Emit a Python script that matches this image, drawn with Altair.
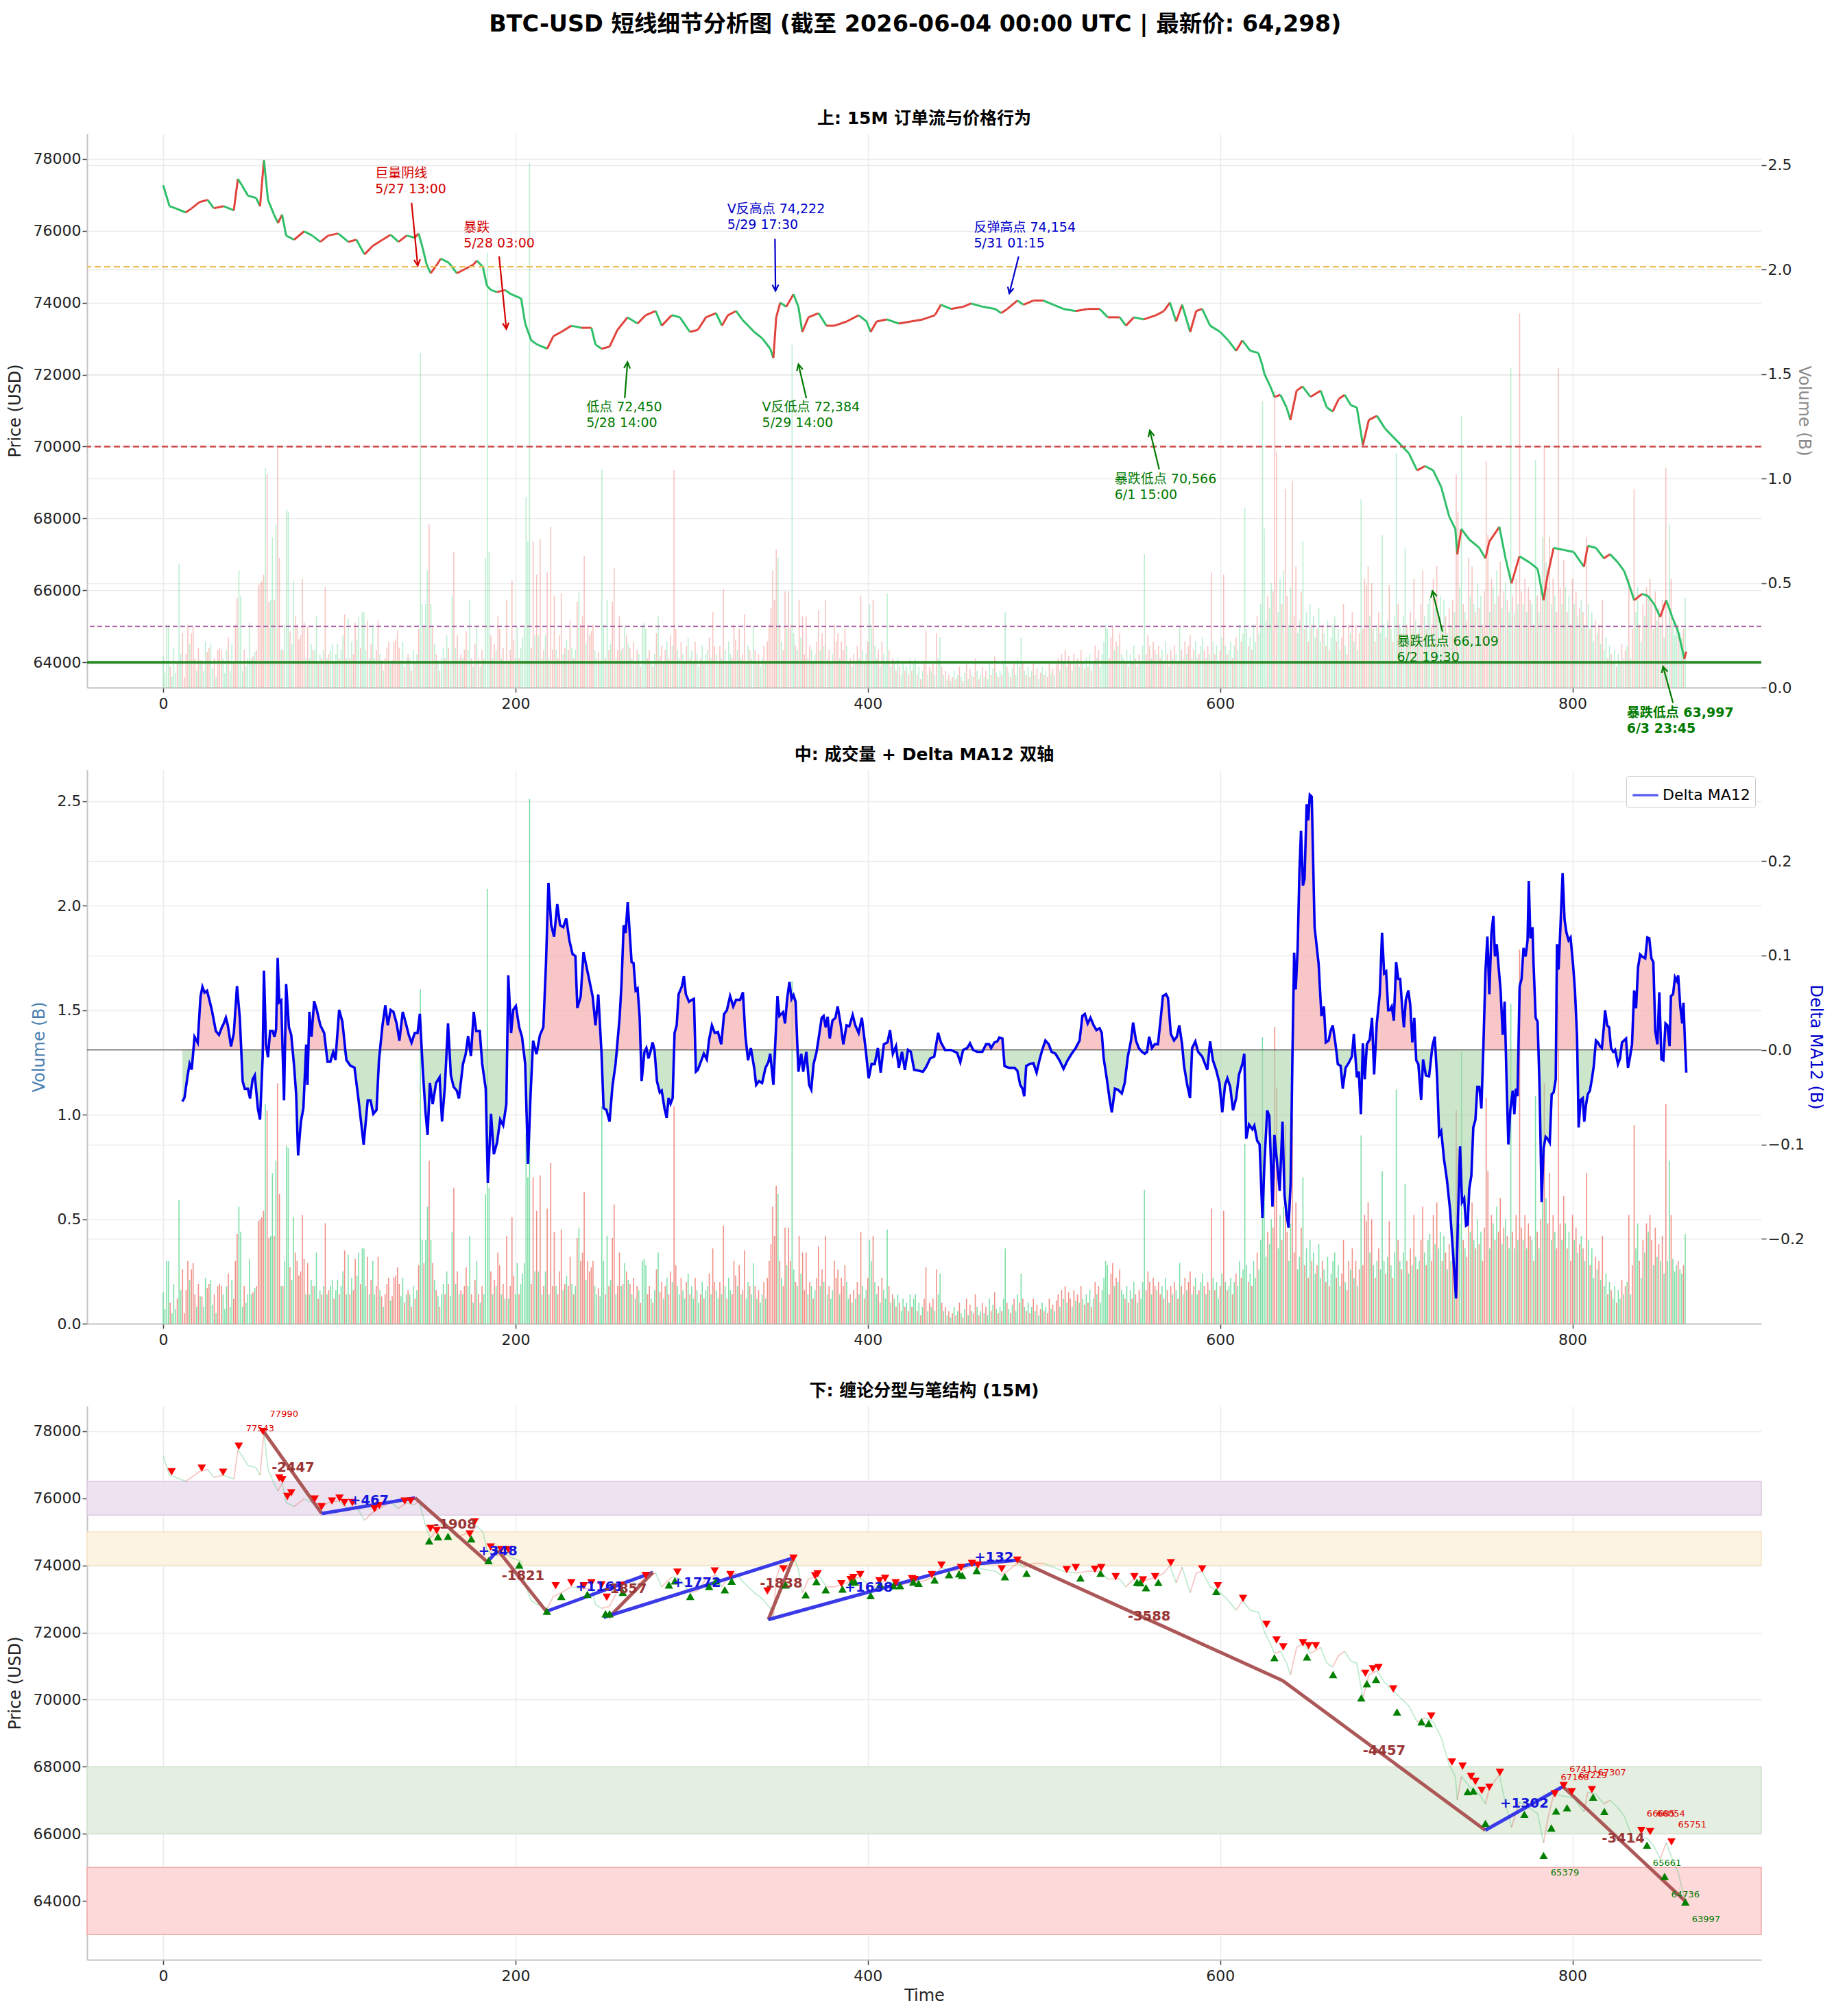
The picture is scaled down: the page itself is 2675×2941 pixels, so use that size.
import math
import pandas as pd
import altair as alt

FONT = "DejaVu Sans, Noto Sans CJK SC, sans-serif"
TITLE = "BTC-USD 短线细节分析图 (截至 2026-06-04 00:00 UTC | 最新价: 64,298)"
T1 = "上: 15M 订单流与价格行为"
T2 = "中: 成交量 + Delta MA12 双轴"
T3 = "下: 缠论分型与笔结构 (15M)"

# ---------------- data ----------------
price_i = [0,3.6,7,12.8,16.2,20.7,25.3,28.7,34.4,40.1,42.4,44.7,48.1,52.7,55,56.1,57.2,59.5,62.9,65.2,67.5,69.8,74.3,80,84.6,89.2,93.7,99.4,105.1,109.7,114.3,118.8,124.5,129.1,133.6,138.2,142.8,145,147.3,149.6,151.9,155.3,157.6,162.2,166.7,171.3,175.9,178.1,181.5,183.8,186.1,189.5,194.1,197.5,203.2,205.5,208.9,212.3,218,221.5,226,231.7,237.4,243.1,245.4,248.8,253.4,257.9,263.6,269.3,273.9,279.6,283,288.7,293.3,299,303.5,308.1,313.8,317.2,320.6,325.2,328.6,335.5,340,344.6,346.4,348,350.3,353.7,357.8,360.6,362.8,366.3,372,376.5,381.1,388,394.8,399.3,401.6,405,410.7,417.6,424.4,431.3,438.1,441.5,447.2,454.1,458.6,465.5,472.3,475.7,479.2,484.9,488.3,494,499.7,505.4,511.1,518,524.8,531.6,536.2,543,546.5,551,556.7,563.6,568.1,571.5,575,578.4,583,586.4,589.8,594.3,600,604.6,609.1,612.6,617.1,621.7,624,625.1,628.5,630.8,634.2,637.7,639.9,643.4,646.8,651.3,657.1,660.5,663.9,667.3,670.7,674.2,677.6,679.9,681,684.4,689,693.5,698.1,702.7,707.2,711.8,716.3,720.9,725.5,730,733.5,734.6,736.9,741.4,747.1,750.6,752.8,758.5,762,765.4,769.9,775.7,780.2,783.6,785.9,789.3,795,800.7,806.5,808.7,813.3,817.8,821.3,825.8,829.3,832.7,835,839.5,842.9,846.4,849.8,853.2,856.6,860,863.5,864.6]
price_p = [77266,76683,76625,76508,76625,76800,76858,76625,76683,76566,77441,77266,76974,76916,76683,77324,77965,76858,76450,76217,76450,75867,75751,75984,75867,75692,75867,75925,75692,75751,75343,75576,75751,75890,75692,75867,75809,75925,75518,75051,74818,75051,75226,75110,74818,74935,75051,75168,74993,74469,74352,74294,74352,74236,74119,73420,72953,72837,72720,73070,73187,73361,73303,73303,72837,72720,72778,73245,73594,73420,73653,73769,73361,73653,73594,73187,73245,73594,73711,73361,73653,73769,73536,73187,73012,72720,72464,73594,74002,73886,74235,73886,73187,73594,73711,73361,73361,73478,73653,73478,73187,73478,73536,73420,73478,73536,73653,73944,73827,73886,73979,73886,73827,73711,73827,74061,73944,74061,74061,73944,73827,73769,73827,73827,73594,73594,73361,73594,73536,73653,73769,74002,73478,73944,73187,73769,73827,73361,73187,72953,72662,72953,72662,72604,72254,72021,71671,71380,71438,71089,70739,71555,71671,71380,71555,71089,70972,71322,71438,71147,71089,70389,70040,70739,70855,70506,70273,70040,69807,69340,69457,69340,68874,68058,67709,67009,67709,67417,67184,66893,67359,67767,66893,66194,66951,66776,66601,65728,66427,67184,67126,67068,66660,67242,67184,66893,67009,66776,66543,66077,65728,65903,65845,65612,65262,65728,65262,64853,64100,64298]

# volume per 15M bar (B), bars 0..864
vol_v = [
    .15,.07,.30,.30,.10,.05,.19,.07,.12,.59, .16,.26,.05,.16,.30,.21,.26,.29,.14,.08,
    .19,.13,.13,.08,.22,.17,.19,.21,.09,.14, .05,.18,.19,.18,.14,.07,.18,.24,.08,.21,
    .12,.30,.43,.56,.44,.08,.18,.10,.14,.31, .14,.15,.17,.18,.49,.50,.51,.54,1.05,1.02,
    .41,.42,.72,.42,.78,1.15,.62,.18,.18,.30, .85,.84,.27,.21,.51,.34,.30,.23,.25,.52,
    .31,.14,.29,.14,.21,.18,.18,.34,.12,.16, .14,.18,.48,.14,.16,.18,.21,.12,.16,.21,
    .14,.18,.25,.35,.14,.33,.14,.22,.16,.31, .23,.34,.19,.36,.36,.18,.32,.14,.21,.30,
    .14,.18,.32,.16,.13,.08,.14,.19,.22,.11, .13,.22,.23,.27,.19,.13,.22,.10,.14,.16,
    .14,.08,.18,.12,.16,.28,1.60,.40,.29,.40, .56,.78,.40,.29,.21,.16,.13,.08,.14,.19,
    .14,.25,.19,.13,.44,.65,.19,.25,.14,.16, .14,.18,.27,.18,.42,.14,.10,.21,.30,.14,
    .10,.18,.14,.62,2.08,.65,.25,.14,.21,.18, .34,.28,.14,.19,.12,.42,.12,.18,.51,.23,
    .14,.29,.14,.19,.24,.29,.91,.70,2.51,.19, .70,.25,.54,.25,.71,.14,.18,.25,.55,.14,
    .77,.18,.44,.18,.14,.25,.45,.16,.19,.23, .18,.32,.19,.14,.18,.41,.46,.30,.34,.63,
    .21,.30,.25,.27,.30,.18,.14,.17,.13,1.04, .30,.14,.42,.18,.21,.41,.57,.14,.18,.34,
    .18,.19,.29,.25,.21,
    .19,.14,.22,.12,.18,.16,.10,.30,.31,.28, .14,.18,.12,.10,.16,.26,.34,.15,.20,.12,
    .18,.22,.14,.25,.20,1.04,.28,.18,.14,.22, .16,.12,.20,.24,.14,.18,.12,.22,.16,.10,
    .14,.20,.12,.16,.18,.24,.14,.36,.20,.16, .12,.20,.14,.47,.18,.12,.22,.16,.14,.30,
    .23,.18,.28,.14,.16,.35,.12,.20,.18,.14, .29,.18,.12,.16,.10,.14,.20,.12,.22,.30,
    .38,.56,.42,.66,.62,.30,.22,.18,.46,.28, .46,.30,1.64,.26,.20,.18,.42,.24,.34,.16,
    .34,.14,.20,.18,.12,.16,.22,.37,.18,.26, .20,.42,.14,.18,.12,.16,.30,.22,.26,.14,
    .22,.18,.28,.20,.12,.14,.10,.16,.12,.20, .14,.44,.18,.12,.16,.22,.40,.30,.42,.20,
    .14,.18,.10,.22,.16,.12,.45,.18,.10,.14, .12,.08,.14,.10,.06,.12,.08,.10,.06,.14,
    .08,.12,.14,.06,.10,.04,.08,.12,.27,.06, .10,.08,.12,.06,.26,.14,.24,.10,.06,.08,
    .04,.06,.03,.05,.08,.04,.06,.10,.05,.03, .07,.12,.04,.09,.06,.05,.14,.08,.04,.06,
    .10,.05,.08,.04,.12,.06,.09,.15,.07,.05, .08,.06,.12,.36,.10,.07,.05,.09,.12,.06,
    .14,.10,.24,.12,.08,.06,.10,.05,.08,.12, .06,.09,.04,.07,.10,.06,.08,.05,.12,.07,
    .09,.06,.11,.14,.08,.16,.12,.18,.10,.15, .12,.08,.16,.11,.14,.10,.18,.12,.09,.14,
    .10,.16,.08,.12,.20,.14,.18,.10,.16,.22, .30,.28,.14,.24,.29,.18,.22,.20,.26,.16,
    .14,.12,.18,.10,.16,.12,.20,.14,.10,.16, .12,.20,.64,.16,.25,.20,.14,.22,.18,.16,
    .20,.14,.18,.12,.22,.16,.10,.18,.14,.20, .16,.12,.29,.18,.14,.22,.16,.20,.25,.14,
    .18,.22,.14,.16,.20,.24,.18,.14,.20,.16, .55,.22,.16,.20,.12,.18,.24,.54,.20,.16,
    .18,.22,.14,.20,.24,.18,.30,.22,.26,.86, .28,.20,.24,.18,.30,.22,.34,.26,.40,1.37,
    .76,.32,.44,.38,.50,.46,1.42,1.13,.36,.52, .40,.56,.95,.44,.30,.48,.99,.34,.58,.26,
    .32,.46,.70,.28,.36,.22,.40,.30,.34,.24, .28,.38,.22,.30,.26,.20,.32,.18,.24,.30,
    .34,.22,.28,.18,.24,.40,.20,.16,.30,.26, .36,.22,.30,.18,.26,.90,.28,.52,.49,.58,
    .34,.50,.28,.22,.30,.36,.26,.73,.30,.24, .32,.49,.28,.22,.34,1.12,.40,.30,.26,.34,
    .67,.30,.24,.36,.28,.52,.32,.26,.30,.40, .56,.34,.28,.40,.43,.30,.52,.38,.58,.36,
    .44,.30,.42,.34,.26,.38,.30,.42,.36,1.02, .84,.48,1.30,.40,.36,.32,.62,.44,.58,.40,
    .36,.50,.38,.44,.30,.46,1.08,.73,.36,.52, .48,.40,.56,.44,.60,.38,.46,.50,.42,.36,
    1.53,.44,.36,.52,.40,1.79,.46,.40,.52,.36, .48,.42,.40,.30,1.09,.44,.36,.50,.72,1.15,
    .60,.48,.72,.40,.52,.44,.36,1.53,.48,.40, .61,.48,.36,.44,.30,.52,.40,.46,.34,.38,
    .42,.36,.30,.72,.40,.28,.36,.22,.32,.26, .30,.21,.42,.18,.24,.14,.20,.16,.12,.18,
    .10,.16,.12,.21,.14,.18,.20,.52,.14,.28, .95,.36,.48,.30,.22,.40,.34,.48,.44,.52,
    .40,.28,.46,.32,.38,.30,.42,.24,1.05,.30, .78,.52,.31,.25,.28,.30,.26,.24,.28,.43,
]
# bar direction per bar: u = close up (red), d = close down (green)
vol_dir = (
    "ddddudddud" "duuuuduuud" "ududduuddu" "duuudddudd" "uuuddduddd"
    "duduuuuudu" "udduduudud" "ddudduuuuu" "ududduddud" "udududdudd"
    "uddudduduu" "ddudddudud" "duududuuud" "uuuuuddudu" "dudududdud"
    "dududududd" "ududdududu" "duuddududu" "duddddudud" "uudududuuu"
    "dduddddddu" "ududududud" "uuuduuudud" "uudududuuu" "duuuuddudd"
    "dududuuduu" "dudud"
    "ududududdd" "uudududuud" "uduuduuddu" "ddududdudd" "ududduduud"
    "dudududduu" "ududuuddud" "dududduduu" "uuuududuud" "uuddududuu"
    "udududuudu" "dududduuud" "uuuddududu" "dudududdud" "dududddudu"
    "dududdudud" "uddududuud" "udududdudu" "dududududu" "dududuudud"
    "ududdududu" "duddududud" "dududududu" "dudududuud" "uduudududu"
    "ududududud" "ududududdd" "dduuududud" "dududududu" "ddduuuduud"
    "uududududu" "dudududuud" "udduddudud" "ududdududu" "ddududdudd"
    "dududduddd" "ddudduuudd" "uduudduuud" "dududududd" "uddudududd"
    "dudduuduud" "udududuuuu" "dudududddu" "dududdudud" "dududududu"
    "ududduudud" "dududududu" "udduduudud" "ududuuuudu" "duduududud"
    "dududuudud" "uududududu" "duududuuud" "ududuududu" "dudududdud"
    "ududdududd" "uddudududu" "uddudududu" "ududududud" "duddduddud"
)

delta_i = [10.9,12.1,13.9,15.0,16.2,17.8,19.6,21.2,22.3,23.5,24.9,26.0,27.6,29.9,31.7,33.3,34.4,35.6,36.7,38.5,40.1,41.9,43.5,45.1,46.3,48.1,49.3,50.8,52.0,53.8,55.0,56.5,57.2,58.4,59.5,60.7,62.2,63.2,64.1,65.0,65.9,67.0,68.6,69.8,71.4,72.7,74.3,75.5,76.6,78.2,79.6,81.2,81.9,83.0,84.2,85.7,87.3,89.2,91.4,93.3,94.9,96.5,97.8,99.9,101.7,104.0,106.3,108.6,110.8,113.8,116.1,117.7,119.3,121.1,122.5,124.5,126.1,127.5,129.1,130.7,132.5,134.1,136.0,137.5,139.4,141.0,142.8,144.4,145.7,147.3,148.9,150.1,151.4,153.0,154.9,156.9,158.3,159.9,161.7,163.3,164.9,166.7,167.9,170.2,171.7,173.1,174.7,176.3,177.7,179.7,181.1,183.1,184.3,186.1,187.7,189.5,191.3,193.0,194.8,195.9,197.5,198.7,200.2,202.1,203.7,205.5,207.1,208.5,210.0,211.9,213.9,215.8,217.3,218.7,220.3,221.9,223.7,225.3,227.1,228.8,230.6,232.4,234.0,235.1,237.0,238.6,240.4,242.0,243.8,245.4,247.0,248.8,250.0,251.6,253.4,255.0,256.8,259.1,260.2,261.4,262.5,263.7,265.9,267.0,268.2,269.3,270.5,271.6,273.2,274.3,275.5,276.6,277.8,278.9,280.3,281.9,283.0,284.6,285.8,286.9,288.0,289.2,290.3,291.5,292.6,294.4,295.6,296.7,298.5,300.1,301.3,302.4,303.5,305.1,306.9,308.6,309.9,311.5,313.1,314.9,316.8,318.4,320.0,321.8,323.6,325.2,327.5,329.1,330.5,332.0,333.6,335.5,336.6,338.2,340.0,341.9,343.5,344.6,346.4,348.7,349.8,351.9,353.0,354.2,355.5,356.7,357.8,359.0,360.6,362.2,363.3,365.1,366.7,367.9,369.2,370.8,371.9,373.8,374.9,376.1,377.2,378.4,379.9,381.6,382.9,384.5,386.1,387.9,389.5,391.4,392.9,394.8,396.6,398.7,400.5,402.1,403.9,405.7,407.3,409.1,411.2,412.6,414.2,416.0,417.6,419.4,421.0,422.8,424.4,426.3,429.0,431.3,433.1,435.4,437.7,439.9,441.5,443.8,447.2,450.7,452.5,454.1,456.4,458.0,459.8,462.1,465.0,467.1,468.9,470.0,471.9,473.5,474.6,476.4,477.6,480.3,483.3,484.9,486.5,487.8,488.8,489.9,491.7,494.0,495.8,497.4,499.0,500.8,502.7,504.3,506.5,508.8,511.1,513.4,515.7,518.0,520.2,521.8,523.2,524.8,526.4,528.2,529.8,531.6,532.8,533.9,535.7,537.3,538.5,540.3,541.9,544.2,545.8,547.6,549.4,550.6,552.2,553.8,555.6,557.2,558.5,559.7,561.3,562.9,564.7,566.3,567.5,569.3,570.4,572.0,573.8,575.4,576.8,578.4,579.5,581.3,582.9,584.1,585.9,587.5,589.8,592.7,594.3,595.9,597.7,599.6,601.2,602.8,604.1,605.7,607.3,609.1,610.7,612.6,613.7,614.8,616.4,618.3,619.4,621.0,622.4,624.0,625.1,626.7,627.9,629.7,630.8,632.4,633.8,635.4,636.5,637.7,638.8,640.0,641.1,642.0,642.9,644.0,645.0,645.9,647.0,647.9,649.1,650.0,650.9,652.0,653.6,655.9,657.5,658.9,660.0,661.6,662.7,663.9,665.5,666.8,668.4,669.6,671.2,672.9,674.8,675.9,677.6,678.7,679.9,681.0,682.1,683.3,684.9,686.2,687.4,688.9,690.6,691.9,693.1,694.2,695.4,696.3,697.4,698.6,699.9,701.1,702.2,703.3,704.3,705.4,706.8,707.9,709.1,710.2,711.3,712.5,714.1,715.2,716.8,718.6,720.5,721.8,723.2,724.3,725.5,727.1,728.7,730.5,732.3,733.9,735.0,736.2,737.3,738.5,739.6,740.5,741.4,742.6,743.7,744.9,746.0,747.1,748.3,749.4,750.6,751.7,752.8,754.0,755.1,756.0,757.0,758.1,759.2,760.4,761.5,762.4,763.6,764.7,766.1,767.0,767.9,768.8,770.0,771.1,772.2,773.4,774.5,775.2,776.1,777.3,777.9,779.1,780.2,781.3,782.5,783.6,784.8,785.9,787.1,788.2,789.3,790.5,791.2,792.1,793.2,794.4,795.5,796.6,797.8,798.9,800.3,801.4,802.6,803.5,804.6,805.8,806.7,807.6,808.7,809.9,811.0,812.1,813.3,814.4,815.6,816.7,817.8,818.5,819.7,820.8,821.9,823.1,824.2,825.8,827.0,828.1,829.3,830.4,831.5,832.7,833.8,835.0,836.1,837.2,838.4,839.5,841.3,842.5,843.6,844.8,845.9,847.0,848.2,849.3,850.5,851.6,852.8,853.9,855.1,855.9,857.1,858.2,859.3,860.0,861.2,862.3,863.0,863.9,864.6]
delta_v = [-0.0546,-0.0505,-0.0269,-0.0147,-0.0208,0.0138,0.0077,0.0566,0.0668,0.0607,0.0627,0.0546,0.0424,0.0200,0.0159,0.0240,0.0281,0.0342,0.0261,0.0037,0.0179,0.0676,0.0342,-0.0330,-0.0411,-0.0411,-0.0513,-0.0310,-0.0269,-0.0627,-0.0737,-0.0065,0.0839,0.0057,-0.0077,0.0200,0.0200,0.0138,0.0220,0.0974,0.0505,0.0525,-0.0534,0.0697,0.0240,0.0159,-0.0167,-0.0473,-0.1116,-0.0758,-0.0615,0.0057,-0.0371,0.0403,0.0138,0.0517,0.0415,0.0261,0.0179,-0.0126,-0.0126,-0.0024,-0.0106,0.0424,0.0301,-0.0106,-0.0167,-0.0187,-0.0513,-0.1002,-0.0534,-0.0534,-0.0676,-0.0635,-0.0106,0.0261,0.0473,0.0261,0.0424,0.0403,0.0281,0.0098,0.0403,0.0301,0.0159,0.0077,0.0179,0.0179,0.0383,-0.0187,-0.0656,-0.0900,-0.0350,-0.0574,-0.0350,-0.0289,-0.0758,-0.0391,0.0281,-0.0269,-0.0391,-0.0432,-0.0513,-0.0147,-0.0045,0.0147,-0.0065,0.0403,0.0200,0.0200,-0.0147,-0.0411,-0.1409,-0.0676,-0.1104,-0.0982,-0.0737,-0.0798,-0.0574,0.0790,0.0179,0.0424,0.0464,0.0240,0.0138,-0.0147,-0.1206,-0.0493,0.0098,-0.0045,0.0159,0.0240,0.0912,0.1768,0.1320,0.1198,0.1544,0.1320,0.1299,0.1393,0.1157,0.1014,0.0994,0.0444,0.0566,0.1035,0.0872,0.0729,0.0566,0.0261,0.0587,-0.0024,-0.0615,-0.0635,-0.0758,-0.0391,-0.0147,0.0342,0.0709,0.1320,0.1238,0.1564,0.093,0.092,0.063,0.065,0.034,-0.033,-0.002,0.002,-0.009,-0.002,0.008,0.0,-0.033,-0.045,-0.043,-0.062,-0.072,-0.051,-0.057,-0.051,0.018,0.026,0.059,0.067,0.078,0.059,0.051,0.053,0.054,-0.023,-0.021,-0.013,-0.004,-0.010,0.011,0.026,0.018,0.019,0.006,0.038,0.042,0.057,0.046,0.053,0.053,0.061,0.015,-0.011,0.002,-0.019,-0.037,-0.033,-0.035,-0.019,-0.013,-0.004,-0.037,0.057,0.036,0.040,0.028,0.054,0.072,0.054,0.058,0.051,-0.023,-0.004,-0.023,-0.002,-0.037,-0.042,-0.015,-0.003,0.010,0.034,0.036,0.024,0.035,0.012,0.031,0.034,0.046,0.028,0.006,0.026,0.025,0.037,0.026,0.018,0.034,0.002,-0.030,-0.015,-0.015,0.002,-0.024,0.006,0.008,0.021,-0.004,0.004,-0.019,-0.002,-0.021,0.0,-0.002,-0.021,-0.022,-0.023,-0.018,-0.009,-0.007,0.018,0.008,0.0,0.0,-0.003,-0.013,0.0,0.002,0.007,0.0,-0.002,-0.002,0.006,0.006,0.002,0.008,0.009,0.013,0.012,-0.017,-0.019,-0.019,-0.022,-0.037,-0.041,-0.049,-0.017,-0.015,-0.014,-0.024,-0.011,0.0,0.010,0.006,-0.002,-0.004,-0.011,-0.020,-0.011,-0.004,0.002,0.010,0.036,0.038,0.028,0.034,0.026,0.021,0.023,0.018,-0.009,-0.031,-0.053,-0.066,-0.041,-0.042,-0.046,-0.035,-0.007,0.010,0.029,0.010,0.002,-0.002,-0.004,-0.002,0.014,0.002,0.006,0.006,0.034,0.057,0.059,0.055,0.017,0.010,0.014,0.026,0.006,-0.017,-0.037,-0.051,0.002,0.009,-0.002,-0.007,-0.021,0.009,-0.011,-0.021,-0.035,-0.066,-0.037,-0.030,-0.039,-0.064,-0.051,-0.026,-0.015,-0.004,-0.094,-0.079,-0.084,-0.080,-0.096,-0.100,-0.178,-0.121,-0.064,-0.070,-0.166,-0.090,-0.121,-0.149,-0.076,-0.153,-0.174,-0.188,-0.141,0.002,0.103,0.064,0.108,0.189,0.232,0.174,0.181,0.260,0.243,0.270,0.268,0.130,0.091,0.036,0.046,0.008,0.010,0.020,0.026,0.006,-0.015,-0.017,-0.041,-0.019,-0.014,-0.007,0.017,-0.029,-0.023,-0.068,0.007,-0.031,0.006,0.011,0.034,-0.026,0.028,0.059,0.124,0.081,0.083,0.042,0.042,0.046,0.031,0.093,0.075,0.075,0.046,0.024,0.053,0.063,0.048,0.008,0.034,-0.011,-0.015,-0.053,-0.010,-0.027,-0.028,0.004,0.014,-0.031,-0.090,-0.086,-0.116,-0.137,-0.169,-0.218,-0.263,-0.178,-0.102,-0.161,-0.157,-0.186,-0.185,-0.147,-0.133,-0.082,-0.074,-0.039,-0.039,-0.062,0.002,0.083,0.120,0.059,0.124,0.142,0.099,0.112,0.087,0.063,0.016,0.051,-0.019,-0.100,-0.064,-0.043,-0.068,-0.041,-0.049,0.067,0.075,0.108,0.099,0.116,0.179,0.118,0.130,0.091,0.034,0.030,-0.039,-0.161,-0.104,-0.092,-0.094,-0.098,-0.047,-0.045,-0.031,0.112,0.085,0.132,0.187,0.138,0.124,0.116,0.119,0.091,0.063,0.014,-0.082,-0.053,-0.051,-0.076,-0.059,-0.047,-0.043,-0.031,-0.017,0.010,0.008,0.004,0.002,0.024,0.042,0.026,0.024,0.002,-0.002,0.0,-0.015,-0.009,0.008,0.010,0.012,-0.019,-0.007,0.006,0.063,0.044,0.087,0.101,0.099,0.097,0.119,0.118,0.097,0.093,0.020,0.006,0.061,-0.010,-0.011,0.028,0.026,0.004,0.057,0.059,0.077,0.073,0.079,0.046,0.028,0.050,0.006,-0.024]

lvl_vals = [75000, 70000, 65000, 64000]

ann_text = ["巨量阴线\n5/27 13:00", "暴跌\n5/28 03:00", "V反高点 74,222\n5/29 17:30", "反弹高点 74,154\n5/31 01:15",
            "低点 72,450\n5/28 14:00", "V反低点 72,384\n5/29 14:00", "暴跌低点 70,566\n6/1 15:00", "暴跌低点 66,109\n6/2 19:30"]
ann_x = [120.4, 170.6, 320.2, 460.2, 240.2, 340.0, 540.1, 700.3]
ann_y = [77764, 76261, 76774, 76261, 71273, 71273, 69268, 64757]
ann_col = ["#d40000", "#d40000", "#0000c8", "#0000c8", "#007a00", "#007a00", "#007a00", "#007a00"]
annb_text = ["暴跌低点 63,997\n6/3 23:45"]
annb_x = [830.8]
annb_y = [62764]
arr_x1 = [141.0, 190.7, 347.3, 485.6, 262.0, 365.1, 565.4, 726.2, 857.1]
arr_y1 = [76780, 75284, 75774, 75284, 71345, 71345, 69364, 64853, 62872]
arr_x2 = [144.5, 194.8, 347.6, 480.3, 263.6, 360.6, 560.1, 720.5, 851.4]
arr_y2 = [75030, 73268, 74329, 74259, 72347, 72289, 70447, 65984, 63886]
arr_col = ["#d40000", "#d40000", "#0000c8", "#0000c8", "#007a00", "#007a00", "#007a00", "#007a00", "#007a00"]

bi_x1 = [57, 90, 143, 184, 190, 217.5, 253, 250, 343.5, 343.5, 457, 485, 635.5, 750.5, 794.6]
bi_y1 = [77990, 75543, 76010, 74102, 74450, 72629, 72450, 72450, 72384, 72384, 74022, 74154, 70566, 66109, 67411]
bi_x2 = [90, 143, 184, 190, 217.5, 278, 278, 357.8, 357.8, 457, 485, 635.5, 750.5, 794.6, 864]
bi_y2 = [75543, 76010, 74102, 74450, 72629, 73790, 73790, 74222, 74222, 74022, 74154, 70566, 66109, 67411, 63997]
bi_up = [0, 1, 0, 1, 0, 1, 0, 1, 0, 1, 1, 0, 0, 1, 0]
bi_lab = ["-2447", "+467", "-1908", "+348", "-1821", "+1161", "-1857", "+1772", "-1838", "+1638", "+132", "-3588", "-4457", "+1302", "-3414"]
bi_lx = [73.7, 117, 165.6, 190, 204.3, 247.7, 262.5, 302.9, 350.8, 400.5, 471.6, 559.7, 693.1, 772.7, 828.8]
bi_ly = [76910, 75930, 75219, 74423, 73688, 73357, 73296, 73480, 73455, 73333, 74239, 72487, 68482, 66901, 65860]

top_i = [4.8,21.9,34.0,42.9,56.6,65.9,67.7,70.5,72.7,86.0,89.9,95.8,100.1,102.9,107.4,120.0,122.7,137.1,140.5,151.7,155.3,174.0,176.8,185.9,191.8,195.9,222.8,231.7,238.8,243.1,248.8,251.8,259.8,273.9,291.9,313.1,322.0,343.0,352.1,357.8,370.1,371.5,385.0,390.2,391.8,395.7,406.6,409.8,415.8,425.1,426.5,436.3,441.8,452.9,459.1,462.5,476.0,484.9,512.9,518.0,528.9,532.5,540.7,551.3,556.2,563.1,572.0,589.8,598.7,613.0,626.3,632.0,635.8,647.0,650.2,654.3,682.4,686.7,689.9,698.3,719.8,731.6,737.6,742.4,744.9,748.5,752.8,758.8,790.0,795.0,799.6,811.0,839.1,844.1,856.2]
top_p = [76787,76897,76775,77547,77990,76604,76555,76052,76162,75979,75746,75917,76003,75868,75868,75685,75783,75917,75917,75097,75035,74937,75293,74545,74472,74472,73394,73480,73394,73480,73418,73051,73406,73700,73798,73835,73725,73235,73896,74215,73688,73749,73455,73578,73639,73725,73541,73615,73480,73602,73578,73725,74006,73933,74055,74006,73896,74154,73872,73933,73884,73933,73663,73663,73565,73663,74080,73896,73394,73014,72242,71777,71569,71691,71605,71605,70785,70920,70956,70319,69511,68139,68016,67710,67563,67294,67392,67832,67195,67440,67257,67318,66105,66068,65762]
bot_i = [151.0,156.0,161.7,174.9,184.7,202.1,217.8,226.0,240.8,251.1,253.4,260.9,287.1,290.5,299.2,309.9,313.8,318.8,322.7,353.3,364.7,370.8,376.1,385.6,390.9,392.7,401.6,406.9,414.6,418.3,425.8,428.8,437.9,446.1,451.8,453.6,461.8,477.8,490.1,520.7,532.1,552.8,554.7,557.9,564.9,597.8,630.8,649.3,664.1,680.1,683.3,688.5,700.4,714.3,718.4,740.5,743.7,750.6,772.7,783.6,788.0,790.7,796.9,811.7,818.1,842.3,852.3,864.1]
bot_p = [74729,74852,74864,74790,74141,74006,72635,73075,73137,72561,72561,73198,73418,73541,73075,73369,73541,73271,73529,73418,73124,73516,73271,73296,73504,73504,73100,73431,73394,73394,73504,73467,73565,73725,73749,73700,73847,73663,73761,73627,73761,73492,73480,73333,73492,73222,71250,71274,70748,70050,70478,70601,69633,69339,69290,67257,67282,66313,66583,65358,66179,66681,66779,67097,66669,65664,64733,63974]

small_red_t = ["77990", "77543", "67411", "67168", "67229", "67307", "66685", "66054", "65751"]
small_red_x = [68.6, 55.0, 806.4, 801.4, 811.7, 822.4, 850.2, 855.9, 868.0]
small_red_y = [78514, 78073, 67931, 67686, 67747, 67820, 66595, 66595, 66277]
small_grn_t = ["65379", "65661", "64736", "63997"]
small_grn_x = [795.7, 853.7, 864.1, 875.8]
small_grn_y = [64844, 65138, 64194, 63459]

zone_lo = [75500, 74000, 66000, 63000]
zone_hi = [76500, 75000, 68000, 65000]
zone_fill = ["#ede3f0", "#fdf3e2", "#e4efe1", "#fdd9da"]
zone_line = ["#dcc8de", "#f6e4c6", "#cfe2cc", "#f1a9ab"]

# ---------------- layout / scales ----------------
W, H = 2442, 808
X_DOM = [-43.2, 907.2]
P1_DOM = [63300, 78700]
V_DOM = [0, 2.65]
D_DOM = [-0.2897, 0.2965]
P3_DOM = [62250, 78750]
UP_C, DN_C = "#e0443c", "#2fbf68"
VUP_C, VDN_C = "#e74c3c", "#2ecc71"

xs = alt.Scale(domain=X_DOM, nice=False, zero=False)
XV = [0, 200, 400, 600, 800]
xaxis = alt.Axis(values=XV, title=None, grid=True, tickSize=7, labelPadding=6)
xaxis_t = alt.Axis(values=XV, title="Time", grid=True, tickSize=7, labelPadding=6, titlePadding=6)

def xenc(f, ax=xaxis):
    return alt.X(f, type="quantitative", scale=xs, axis=ax)

p1s = alt.Scale(domain=P1_DOM, nice=False, zero=False)
p1ax = alt.Axis(values=list(range(64000, 78001, 2000)), format="d", title="Price (USD)", grid=True, tickSize=7, orient="left", titlePadding=14)
p3s = alt.Scale(domain=P3_DOM, nice=False, zero=False)
p3ax = alt.Axis(values=list(range(64000, 78001, 2000)), format="d", title="Price (USD)", grid=True, tickSize=7, orient="left", titlePadding=14)
vs = alt.Scale(domain=V_DOM, nice=False, zero=True)
VV = [0, 0.5, 1.0, 1.5, 2.0, 2.5]
v1ax = alt.Axis(values=VV, format=".1f", title="Volume (B)", titleColor="#8a8a8a", orient="right", domain=False, grid=True, tickSize=7, titlePadding=6)
v2ax = alt.Axis(values=VV, format=".1f", title="Volume (B)", titleColor="#4a7fb0", orient="left", grid=True, tickSize=7, titlePadding=14)
ds = alt.Scale(domain=D_DOM, nice=False, zero=False)
dax = alt.Axis(values=[-0.2, -0.1, 0.0, 0.1, 0.2], format=".1f", title="Delta MA12 (B)", titleColor="#0000cc", orient="right", domain=False, grid=True, tickSize=7, titlePadding=4)

# derived tables
seg = pd.DataFrame({"x": price_i[:-1], "x2": price_i[1:], "y": price_p[:-1], "y2": price_p[1:]})
seg["c"] = [UP_C if b >= a else DN_C for a, b in zip(seg["y"], seg["y2"])]
vol = pd.DataFrame({"i": list(range(len(vol_v))), "v": vol_v,
                    "c": [VUP_C if ch == "u" else VDN_C for ch in vol_dir[:len(vol_v)]]})
dd = pd.DataFrame({"i": delta_i, "d": delta_v})
dd["pos"] = dd["d"].clip(lower=0)
dd["neg"] = dd["d"].clip(upper=0)
dd["name"] = "Delta MA12"

sx = W / (X_DOM[1] - X_DOM[0])
sy = H / (P1_DOM[1] - P1_DOM[0])
angs = []
for a, b, c, d in zip(arr_x1, arr_y1, arr_x2, arr_y2):
    dx = (c - a) * sx
    dys = -(d - b) * sy
    angs.append((math.degrees(math.atan2(dx, -dys)) + 360) % 360)
arr = pd.DataFrame({"x": arr_x1, "y": arr_y1, "x2": arr_x2, "y2": arr_y2, "c": arr_col, "a": angs})
ann = pd.DataFrame({"x": ann_x, "y": ann_y, "t": ann_text, "c": ann_col})
annb = pd.DataFrame({"x": annb_x, "y": annb_y, "t": annb_text})

# ---------------- panel 1 ----------------
vol1 = alt.Chart(vol).mark_rule(strokeWidth=1.6, opacity=0.32).encode(
    x=xenc("i"), y=alt.Y("v:Q", scale=vs, axis=v1ax), y2=alt.datum(0), color=alt.Color("c:N", scale=None))
cand1 = alt.Chart(seg).mark_rule(strokeWidth=3.0).encode(
    x=xenc("x"), x2="x2", y=alt.Y("y:Q", scale=p1s, axis=p1ax), y2="y2", color=alt.Color("c:N", scale=None))

def hline(v, color, w, dash=None):
    kw = dict(color=color, strokeWidth=w)
    if dash:
        kw["strokeDash"] = dash
    return alt.Chart(pd.DataFrame({"y": [v]})).mark_rule(**kw).encode(y=alt.Y("y:Q", scale=p1s, axis=p1ax))

h1 = hline(lvl_vals[0], "#efbb55", 2.4, [9, 5])
h2 = hline(lvl_vals[1], "#cf4a4a", 2.4, [9, 5])
h3 = hline(lvl_vals[2], "#a0559a", 2.0, [7, 4])
h4 = hline(lvl_vals[3], "#2a8a2a", 4.0)
anntxt = alt.Chart(ann).mark_text(align="left", baseline="top", fontSize=19, lineBreak="\n", lineHeight=23, font=FONT).encode(
    x=xenc("x"), y=alt.Y("y:Q", scale=p1s, axis=p1ax), text="t:N", color=alt.Color("c:N", scale=None))
annbold = alt.Chart(annb).mark_text(align="left", baseline="top", fontSize=19, fontWeight="bold", lineBreak="\n", lineHeight=23, font=FONT, color="#007a00").encode(
    x=xenc("x"), y=alt.Y("y:Q", scale=p1s, axis=p1ax), text="t:N")
arrl = alt.Chart(arr).mark_rule(strokeWidth=2.2).encode(
    x=xenc("x"), x2="x2", y=alt.Y("y:Q", scale=p1s, axis=p1ax), y2="y2", color=alt.Color("c:N", scale=None))
arrh = alt.Chart(arr).mark_point(shape="M-0.5,1L0,0L0.5,1", filled=False, size=320, strokeWidth=2.2, opacity=1).encode(
    x=xenc("x2"), y=alt.Y("y2:Q", scale=p1s, axis=p1ax), angle=alt.Angle("a:Q", scale=None), color=alt.Color("c:N", scale=None))

price1 = alt.layer(cand1, h1, h2, h3, h4, arrl, arrh, anntxt, annbold)
p1 = alt.layer(vol1, price1).resolve_scale(y="independent").properties(
    width=W, height=H, title=alt.TitleParams(T1, fontSize=25, fontWeight="bold", font=FONT, offset=9, anchor="middle"))

# ---------------- panel 2 ----------------
vol2 = alt.Chart(vol).mark_rule(strokeWidth=1.6, opacity=0.62).encode(
    x=xenc("i"), y=alt.Y("v:Q", scale=vs, axis=v2ax), y2=alt.datum(0), color=alt.Color("c:N", scale=None))
posa = alt.Chart(dd).mark_area(color="#f6b3b3", opacity=0.75).encode(
    x=xenc("i"), y=alt.Y("pos:Q", scale=ds, axis=dax), y2=alt.datum(0))
nega = alt.Chart(dd).mark_area(color="#a9d6a9", opacity=0.6).encode(
    x=xenc("i"), y=alt.Y("neg:Q", scale=ds, axis=dax), y2=alt.datum(0))
zl = alt.Chart(pd.DataFrame({"y": [0.0]})).mark_rule(color="#222222", strokeWidth=1).encode(y=alt.Y("y:Q", scale=ds, axis=dax))
dline = alt.Chart(dd).mark_line(strokeWidth=3.6).encode(
    x=xenc("i"), y=alt.Y("d:Q", scale=ds, axis=dax),
    color=alt.Color("name:N", scale=alt.Scale(range=["#0000ee"]),
                    legend=alt.Legend(title=None, orient="top-right", symbolType="stroke", symbolStrokeWidth=3.6,
                                      symbolSize=1400, labelFontSize=22, labelFont=FONT, strokeColor="#cccccc",
                                      fillColor="#ffffff", padding=7, cornerRadius=4, offset=9, labelLimit=300)))
p2 = alt.layer(vol2, alt.layer(posa, nega, zl, dline)).resolve_scale(y="independent").properties(
    width=W, height=H, title=alt.TitleParams(T2, fontSize=25, fontWeight="bold", font=FONT, offset=9, anchor="middle"))

# ---------------- panel 3 ----------------
zdf = pd.DataFrame({"lo": zone_lo, "hi": zone_hi, "f": zone_fill, "s": zone_line})
zones = alt.Chart(zdf).mark_rect(strokeWidth=1.5).encode(
    y=alt.Y("lo:Q", scale=p3s, axis=p3ax), y2="hi:Q", fill=alt.Fill("f:N", scale=None), stroke=alt.Stroke("s:N", scale=None))
cand3 = alt.Chart(seg).mark_rule(strokeWidth=1.8, opacity=0.3).encode(
    x=xenc("x", xaxis_t), x2="x2", y=alt.Y("y:Q", scale=p3s, axis=p3ax), y2="y2", color=alt.Color("c:N", scale=None))
bi = pd.DataFrame({"x": bi_x1, "y": bi_y1, "x2": bi_x2, "y2": bi_y2, "c": ["#2f2fe8" if u else "#a84f4f" for u in bi_up]})
bil = alt.Chart(bi).mark_rule(strokeWidth=5, opacity=0.95).encode(
    x=xenc("x", xaxis_t), x2="x2", y=alt.Y("y:Q", scale=p3s, axis=p3ax), y2="y2", color=alt.Color("c:N", scale=None))
tops = alt.Chart(pd.DataFrame({"x": top_i, "y": top_p})).mark_point(shape="triangle-down", filled=True, size=150, color="#ff0000", opacity=1).encode(
    x=xenc("x", xaxis_t), y=alt.Y("y:Q", scale=p3s, axis=p3ax))
bots = alt.Chart(pd.DataFrame({"x": bot_i, "y": bot_p})).mark_point(shape="triangle-up", filled=True, size=150, color="#008000", opacity=1).encode(
    x=xenc("x", xaxis_t), y=alt.Y("y:Q", scale=p3s, axis=p3ax))
bl = pd.DataFrame({"x": bi_lx, "y": bi_ly, "t": bi_lab, "c": ["#1515dd" if u else "#9a3535" for u in bi_up]})
bilab = alt.Chart(bl).mark_text(fontSize=19.5, fontWeight="bold", font=FONT).encode(
    x=xenc("x", xaxis_t), y=alt.Y("y:Q", scale=p3s, axis=p3ax), text="t:N", color=alt.Color("c:N", scale=None))
sr = alt.Chart(pd.DataFrame({"x": small_red_x, "y": small_red_y, "t": small_red_t})).mark_text(fontSize=13, font=FONT, color="#e00000").encode(
    x=xenc("x", xaxis_t), y=alt.Y("y:Q", scale=p3s, axis=p3ax), text="t:N")
sg = alt.Chart(pd.DataFrame({"x": small_grn_x, "y": small_grn_y, "t": small_grn_t})).mark_text(fontSize=13, font=FONT, color="#007a00").encode(
    x=xenc("x", xaxis_t), y=alt.Y("y:Q", scale=p3s, axis=p3ax), text="t:N")
p3 = alt.layer(zones, cand3, bil, tops, bots, bilab, sr, sg).properties(
    width=W, height=H, title=alt.TitleParams(T3, fontSize=25, fontWeight="bold", font=FONT, offset=9, anchor="middle"))

chart = alt.vconcat(p1, p2, p3, spacing=120, bounds="flush").resolve_scale(color="independent").properties(
    title=alt.TitleParams(TITLE, fontSize=33.5, fontWeight="bold", font=FONT, anchor="middle", offset=108),
    padding={"left": 10, "top": 18, "right": 8, "bottom": 2},
).configure_view(stroke=None).configure_axis(
    labelFont=FONT, titleFont=FONT, labelFontSize=22, titleFontSize=24, titleFontWeight="normal",
    labelColor="#222222", titleColor="#222222", tickColor="#444444", domainColor="#c4c4c4", domainWidth=2,
    gridColor="#ebebeb", gridWidth=1.5, tickWidth=1.5
)

chart.save("out.html", embed_options={"renderer": "svg", "actions": False})
